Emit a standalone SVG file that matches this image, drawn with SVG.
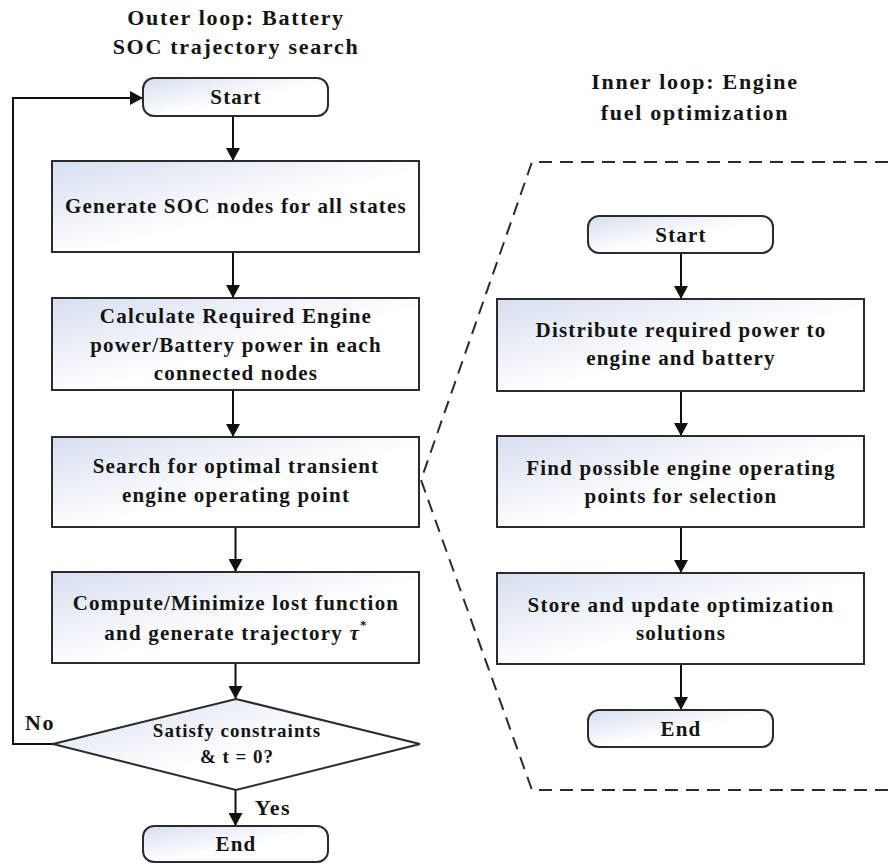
<svg xmlns="http://www.w3.org/2000/svg" width="888" height="866" viewBox="0 0 888 866">
<style>
.t{font-family:"Liberation Serif","Times New Roman",serif;font-weight:bold;fill:#141414;text-anchor:middle}
.title{font-size:22px;letter-spacing:1.7px}
.box{font-size:21px;letter-spacing:1.2px}
.dia{font-size:19px;letter-spacing:1px}
.lbl{font-size:22px;letter-spacing:1.5px}
.shape{fill:url(#g);stroke:#2b2b2b;stroke-width:2}
.conn{fill:none;stroke:#111;stroke-width:2}
.dash{fill:none;stroke:#2b2b2b;stroke-width:2;stroke-dasharray:13 8}
</style>
<defs>
<linearGradient id="g" x1="0" y1="0" x2="1" y2="1">
<stop offset="0" stop-color="#d6deef"/>
<stop offset="0.55" stop-color="#ffffff"/>
<stop offset="1" stop-color="#ffffff"/>
</linearGradient>
<marker id="ah" markerWidth="14" markerHeight="14" refX="12" refY="7" orient="auto" markerUnits="userSpaceOnUse">
<path d="M0,0 L13,7 L0,14 Z" fill="#111"/>
</marker>
</defs>
<rect width="888" height="866" fill="#ffffff"/>

<g id="titles">
<text class="t title" x="236" y="25">Outer loop: Battery</text>
<text class="t title" x="236" y="54">SOC trajectory search</text>
<text class="t title" x="695" y="89">Inner loop: Engine</text>
<text class="t title" x="695" y="120">fuel optimization</text>
</g>

<g id="inner-region">
<polyline class="dash" points="888,162 532,162 421,480 532,790 888,790"/>
</g>

<g id="connectors">
<line class="conn" x1="233" y1="116" x2="233" y2="160" marker-end="url(#ah)"/>
<line class="conn" x1="233" y1="252" x2="233" y2="297" marker-end="url(#ah)"/>
<line class="conn" x1="233" y1="390" x2="233" y2="436" marker-end="url(#ah)"/>
<line class="conn" x1="235.5" y1="527" x2="235.5" y2="571" marker-end="url(#ah)"/>
<line class="conn" x1="235.5" y1="663" x2="235.5" y2="698" marker-end="url(#ah)"/>
<line class="conn" x1="235.5" y1="790" x2="235.5" y2="825" marker-end="url(#ah)"/>
<polyline class="conn" points="53,744 13,744 13,98 142,98" marker-end="url(#ah)"/>
<line class="conn" x1="681" y1="253" x2="681" y2="298" marker-end="url(#ah)"/>
<line class="conn" x1="681" y1="391" x2="681" y2="435" marker-end="url(#ah)"/>
<line class="conn" x1="681" y1="527" x2="681" y2="572" marker-end="url(#ah)"/>
<line class="conn" x1="681" y1="664" x2="681" y2="709" marker-end="url(#ah)"/>
<text class="t lbl" x="40" y="730">No</text>
<text class="t lbl" x="273" y="815">Yes</text>
</g>

<g id="outer-start">
<rect class="shape" x="143" y="78" width="185" height="38" rx="11"/>
<text class="t box" x="236" y="104">Start</text>
</g>
<g id="generate-soc">
<rect class="shape" x="52" y="161" width="367" height="91"/>
<text class="t box" x="236" y="213">Generate SOC nodes for all states</text>
</g>
<g id="calculate-power">
<rect class="shape" x="52" y="298" width="367" height="92"/>
<text class="t box" x="236" y="323">Calculate Required Engine</text>
<text class="t box" x="236" y="352">power/Battery power in each</text>
<text class="t box" x="236" y="380">connected nodes</text>
</g>
<g id="search-optimal">
<rect class="shape" x="52" y="437" width="367" height="90"/>
<text class="t box" x="236" y="473">Search for optimal transient</text>
<text class="t box" x="236" y="502">engine operating point</text>
</g>
<g id="compute-minimize">
<rect class="shape" x="52" y="572" width="367" height="91"/>
<text class="t box" x="236" y="610">Compute/Minimize lost function</text>
<text class="t box" x="236" y="640">and generate trajectory <tspan font-style="italic">τ</tspan><tspan font-size="13" dy="-11">*</tspan></text>
</g>
<g id="decision">
<polygon class="shape" points="236,699 420,744 236,790 53,744"/>
<text class="t dia" x="237" y="737">Satisfy constraints</text>
<text class="t dia" x="237" y="763">&amp; t = 0?</text>
</g>
<g id="outer-end">
<rect class="shape" x="143" y="826" width="185" height="36" rx="11"/>
<text class="t box" x="236" y="851">End</text>
</g>

<g id="inner-start">
<rect class="shape" x="588" y="216" width="185" height="37" rx="11"/>
<text class="t box" x="681" y="242">Start</text>
</g>
<g id="distribute-power">
<rect class="shape" x="497" y="299" width="367" height="92"/>
<text class="t box" x="681" y="337">Distribute required power to</text>
<text class="t box" x="681" y="365">engine and battery</text>
</g>
<g id="find-points">
<rect class="shape" x="497" y="436" width="367" height="91"/>
<text class="t box" x="681" y="475">Find possible engine operating</text>
<text class="t box" x="681" y="503">points for selection</text>
</g>
<g id="store-update">
<rect class="shape" x="497" y="573" width="367" height="91"/>
<text class="t box" x="681" y="612">Store and update optimization</text>
<text class="t box" x="681" y="640">solutions</text>
</g>
<g id="inner-end">
<rect class="shape" x="588" y="710" width="185" height="37" rx="11"/>
<text class="t box" x="681" y="736">End</text>
</g>
</svg>
